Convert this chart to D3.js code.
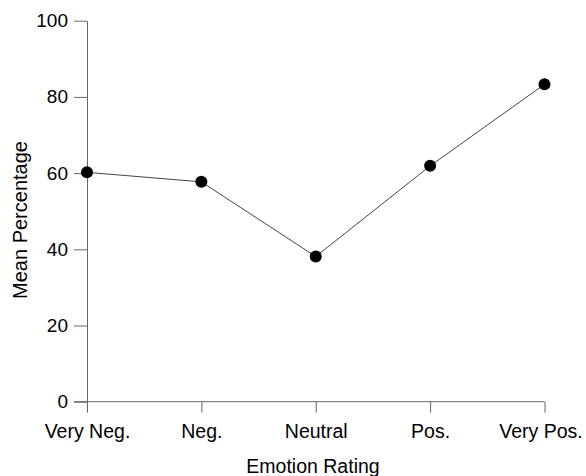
<!DOCTYPE html>
<html>
<head>
<meta charset="utf-8">
<script src="https://cdn.jsdelivr.net/npm/d3@7"></script>
<style>
  body { margin: 0; background: #fff; }
  svg { display: block; font-family: "Liberation Sans", Arial, sans-serif; }
</style>
</head>
<body>
<svg width="586" height="476"></svg>
<script>
const categories = ["Very Neg.", "Neg.", "Neutral", "Pos.", "Very Pos."];
const meanPct = [60.2, 57.7, 38.1, 61.9, 83.3];
const yTicks = [0, 20, 40, 60, 80, 100];

const svg = d3.select("svg");

const x = d3.scalePoint()
    .domain(categories)
    .range([87, 544.5]);

const y = d3.scaleLinear()
    .domain([0, 100])
    .range([401.7, 20.7]);

// y axis
const yAxis = svg.append("g")
    .attr("transform", "translate(87,0)")
    .call(d3.axisLeft(y).tickValues(yTicks).tickSize(13).tickPadding(6).tickSizeOuter(0));
yAxis.selectAll("text").style("font-size", "19px").attr("fill", "#000");

// x axis
const xAxis = svg.append("g")
    .attr("transform", "translate(0,401.7)")
    .call(d3.axisBottom(x).tickSize(11).tickPadding(11).tickSizeOuter(0));
xAxis.selectAll("text").style("font-size", "19.5px").attr("fill", "#000");
// last label sits slightly left so it fits in the frame
xAxis.selectAll("text").filter(d => d === "Very Pos.").attr("dx", -4);

svg.selectAll(".domain, .tick line").attr("stroke", "#666").attr("stroke-width", 1);
// x axis line starts at the y=0 tick
xAxis.select(".domain").attr("d", `M74,0H${x("Very Pos.")}`);

const data = categories.map((c, i) => ({ cat: c, v: meanPct[i] }));

svg.append("path")
    .datum(data)
    .attr("fill", "none")
    .attr("stroke", "#444")
    .attr("stroke-width", 1)
    .attr("d", d3.line().x(d => x(d.cat)).y(d => y(d.v)));

svg.selectAll("circle")
    .data(data)
    .enter()
    .append("circle")
    .attr("cx", d => x(d.cat))
    .attr("cy", d => y(d.v))
    .attr("r", 6)
    .attr("fill", "#000");

// axis titles
svg.append("text")
    .attr("x", 313)
    .attr("y", 473)
    .attr("text-anchor", "middle")
    .style("font-size", "19.5px")
    .text("Emotion Rating");

svg.append("text")
    .attr("transform", "translate(27,220) rotate(-90)")
    .attr("text-anchor", "middle")
    .style("font-size", "20px")
    .text("Mean Percentage");
</script>
</body>
</html>
